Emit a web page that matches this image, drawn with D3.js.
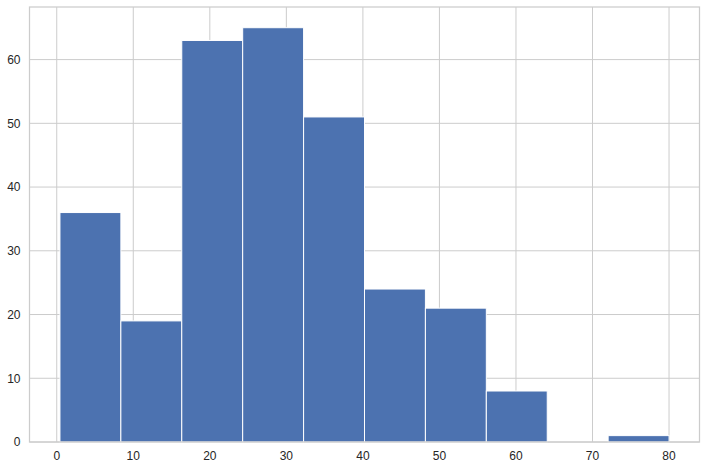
<!DOCTYPE html>
<html><head><meta charset="utf-8">
<script src="https://cdn.jsdelivr.net/npm/d3@7"></script>
<style>body{margin:0;background:#fff}svg{display:block}</style>
</head><body>
<script>
const binEdges = [0.42, 8.378, 16.336, 24.294, 32.252, 40.21, 48.168, 56.126, 64.084, 72.042, 80.0];
const counts = [36, 19, 63, 65, 51, 24, 21, 8, 0, 1];
const xTicks = [0, 10, 20, 30, 40, 50, 60, 70, 80];
const yTicks = [0, 10, 20, 30, 40, 50, 60];

const W = 706, H = 469;
const L = 29.5, R = 699.5, T = 7, B = 442;
const svg = d3.select("body").append("svg").attr("width", W).attr("height", H);
const x = d3.scaleLinear().domain([-3.559, 83.979]).range([L, R]);
const y = d3.scaleLinear().domain([0, 68.25]).range([B, T]);

const grid = svg.append("g");
grid.selectAll(".vx").data(xTicks).join("line")
  .attr("x1", d => x(d)).attr("x2", d => x(d)).attr("y1", T).attr("y2", B)
  .attr("stroke", "#cccccc").attr("stroke-width", 1);
grid.selectAll(".hy").data(yTicks).join("line")
  .attr("y1", d => y(d)).attr("y2", d => y(d)).attr("x1", L).attr("x2", R)
  .attr("stroke", "#cccccc").attr("stroke-width", 1);

const bins = counts.map((c, i) => ({x0: binEdges[i], x1: binEdges[i + 1], c}));
svg.append("g").selectAll("rect").data(bins.filter(b => b.c > 0)).join("rect")
  .attr("x", d => x(d.x0)).attr("width", d => x(d.x1) - x(d.x0))
  .attr("y", d => y(d.c)).attr("height", d => y(0) - y(d.c))
  .attr("fill", "#4c72b0").attr("stroke", "#ffffff").attr("stroke-width", 1);

svg.append("rect").attr("x", L).attr("y", T).attr("width", R - L).attr("height", B - T)
  .attr("fill", "none").attr("stroke", "#cccccc").attr("stroke-width", 1.25);

const font = "Liberation Sans, Arial, sans-serif";
svg.append("g").selectAll("text").data(xTicks).join("text")
  .attr("x", d => x(d)).attr("y", B + 18)
  .attr("text-anchor", "middle").attr("font-family", font).attr("font-size", 12)
  .attr("fill", "#262626").text(d => d);
svg.append("g").selectAll("text").data(yTicks).join("text")
  .attr("x", L - 9).attr("y", d => y(d) + 4.3)
  .attr("text-anchor", "end").attr("font-family", font).attr("font-size", 12)
  .attr("fill", "#262626").text(d => d);
</script>
</body></html>
